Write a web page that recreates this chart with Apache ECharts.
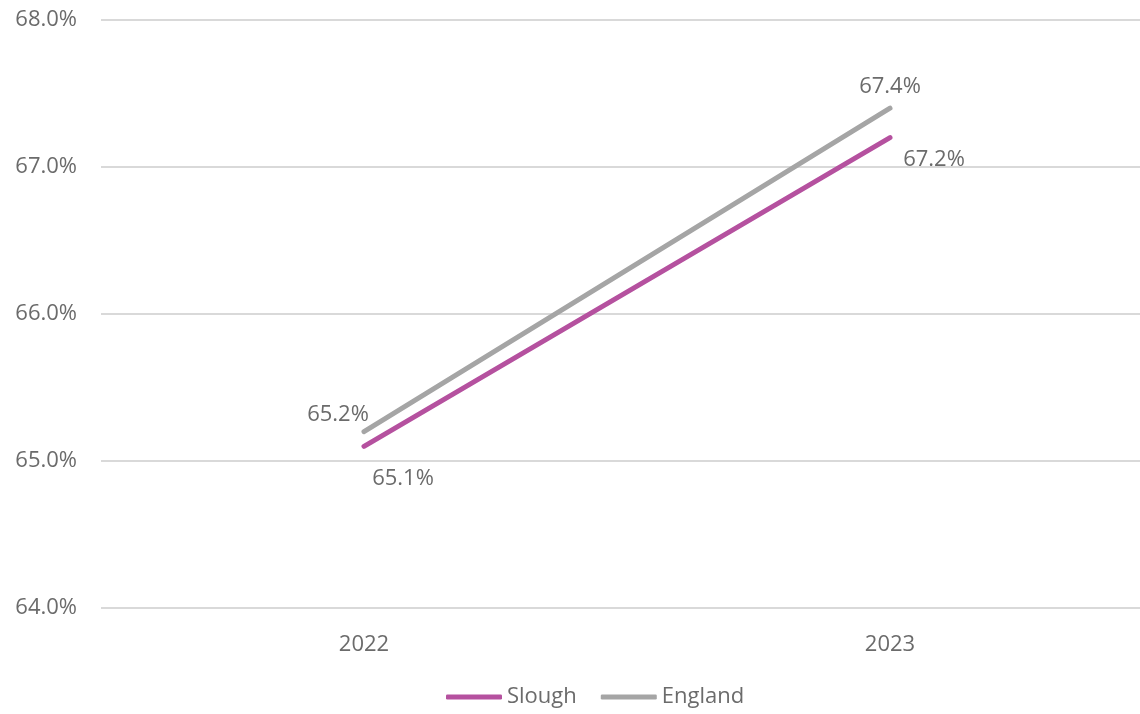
<!DOCTYPE html>
<html>
<head>
<meta charset="utf-8">
<script src="https://cdn.jsdelivr.net/npm/echarts@6/dist/echarts.min.js"></script>
<style>
  html, body { margin: 0; padding: 0; background: #fff; }
  #chart { width: 1140px; height: 714px; }
</style>
</head>
<body>
<div id="chart"></div>
<script>
const years = ['2022', '2023'];
const slough = [65.1, 67.2];
const england = [65.2, 67.4];

const font = '"Open Sans", "Noto Sans", sans-serif';
const grey = '#6b6b6b';
const fs = 22;

const chart = echarts.init(document.getElementById('chart'));

chart.setOption({
  animation: false,
  textStyle: { fontFamily: font },
  grid: { left: 101, width: 1052, top: 20, bottom: 106, outerBoundsMode: 'none' },
  legend: {
    bottom: 1,
    left: 441,
    icon: 'roundRect',
    itemWidth: 56,
    itemHeight: 5,
    itemGap: 24,
    textStyle: { color: grey, fontSize: fs, fontFamily: font },
    data: ['Slough', 'England']
  },
  xAxis: {
    type: 'category',
    data: years,
    axisLine: { show: false },
    axisTick: { show: false },
    axisLabel: { color: grey, fontSize: fs, margin: 26 }
  },
  yAxis: {
    type: 'value',
    min: 64,
    max: 68,
    interval: 1,
    axisLabel: {
      color: grey,
      fontSize: fs,
      margin: 24,
      formatter: v => v.toFixed(1) + '%'
    },
    splitLine: { lineStyle: { color: '#d9d9d9', width: 2 } }
  },
  series: [
    {
      name: 'Slough',
      type: 'line',
      data: [
        { value: slough[0], label: { offset: [39, 16] } },
        { value: slough[1], label: { offset: [44, 6] } }
      ],
      symbol: 'circle',
      symbolSize: 1,
      itemStyle: { color: '#b5519f' },
      lineStyle: { width: 5, cap: 'round', color: '#b5519f' },
      label: {
        show: true,
        position: 'bottom',
        color: grey,
        fontSize: fs,
        formatter: p => p.value.toFixed(1) + '%'
      }
    },
    {
      name: 'England',
      type: 'line',
      data: [
        { value: england[0], label: { offset: [-26, 0] } },
        { value: england[1], label: { offset: [0, -5] } }
      ],
      symbol: 'circle',
      symbolSize: 1,
      itemStyle: { color: '#a5a5a5' },
      lineStyle: { width: 5, cap: 'round', color: '#a5a5a5' },
      label: {
        show: true,
        position: 'top',
        color: grey,
        fontSize: fs,
        formatter: p => p.value.toFixed(1) + '%'
      }
    }
  ]
});
</script>
</body>
</html>
